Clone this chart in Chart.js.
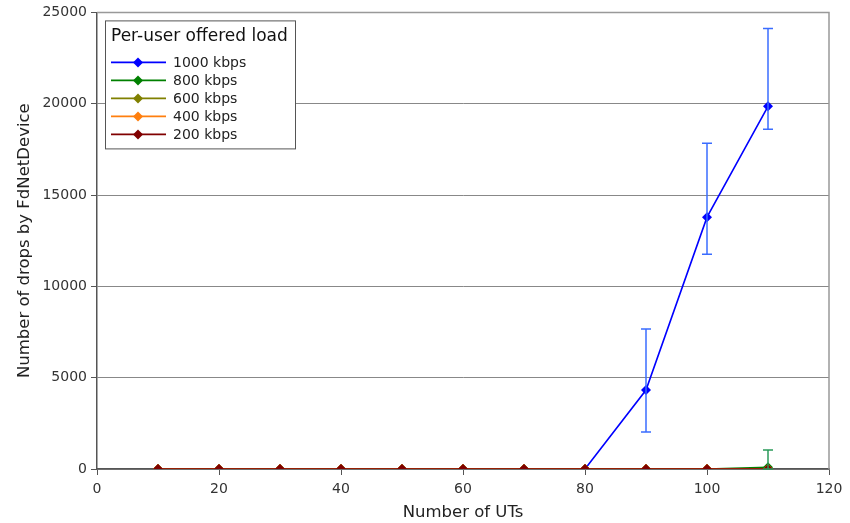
<!DOCTYPE html>
<html>
<head>
<meta charset="utf-8">
<script src="https://cdn.jsdelivr.net/npm/chart.js@4"></script>
<style>
  html, body { margin: 0; padding: 0; background: #fff; }
  #wrap { width: 850px; height: 523px; }
</style>
</head>
<body>
<div id="wrap"><canvas id="dropsChart" width="850" height="523"></canvas></div>
<script>
// Number of UTs
const uts = [10, 20, 30, 40, 50, 60, 70, 80, 90, 100, 110];

// drops per offered load
const drops1000 = [0, 0, 0, 0, 0, 0, 0, 0, 4320, 13790, 19860];
const drops800 = [0, 0, 0, 0, 0, 0, 0, 0, 0, 0, 90];
const drops600 = [0, 0, 0, 0, 0, 0, 0, 0, 0, 0, 0];
const drops400 = [0, 0, 0, 0, 0, 0, 0, 0, 0, 0, 0];
const drops200 = [0, 0, 0, 0, 0, 0, 0, 0, 0, 0, 0];

// error bars [low, high], null = none drawn
const err1000 = [null, null, null, null, null, null, null, null, [2030, 7660], [11760, 17830], [18600, 24120]];
const err800 = [null, null, null, null, null, null, null, null, null, null, [0, 1040]];

const loadLabels = ['1000 kbps', '800 kbps', '600 kbps', '400 kbps', '200 kbps'];
const legendTitle = 'Per-user offered load';

function pts(vals) {
    return vals.map(function(v, i) { return { x: uts[i], y: v }; });
}

function series(label, vals, color, order, errs, errColor) {
    return {
        label: label,
        data: pts(vals),
        borderColor: color,
        backgroundColor: color,
        borderWidth: 1.6,
        pointStyle: 'rectRot',
        pointRadius: 5,
        pointHoverRadius: 5,
        pointBorderWidth: 0,
        tension: 0,
        order: order,
        errors: errs || null,
        errColor: errColor || color
    };
}

// error bars drawn on top of lines
const errorBars = {
    id: 'errorBars',
    afterDatasetsDraw(chart) {
        const ctx = chart.ctx;
        const xs = chart.scales.x, ys = chart.scales.y;
        ctx.save();
        ctx.beginPath();
        ctx.rect(chart.chartArea.left, chart.chartArea.top, chart.chartArea.width, chart.chartArea.height + 1);
        ctx.clip();
        chart.data.datasets.forEach(function(ds) {
            if (!ds.errors) return;
            ctx.strokeStyle = ds.errColor;
            ctx.lineWidth = 1.5;
            ds.errors.forEach(function(e, i) {
                if (!e) return;
                const px = xs.getPixelForValue(uts[i]);
                const lo = ys.getPixelForValue(e[0]);
                const hi = ys.getPixelForValue(e[1]);
                ctx.beginPath();
                ctx.moveTo(px, lo); ctx.lineTo(px, hi);
                ctx.moveTo(px - 5, lo); ctx.lineTo(px + 5, lo);
                ctx.moveTo(px - 5, hi); ctx.lineTo(px + 5, hi);
                ctx.stroke();
            });
        });
        ctx.restore();
    }
};

// frame + boxed legend inside the plot
const frameAndLegend = {
    id: 'frameAndLegend',
    afterDraw(chart) {
        const ctx = chart.ctx;
        const a = chart.chartArea;
        ctx.save();
        ctx.strokeStyle = '#999';
        ctx.lineWidth = 1.5;
        ctx.beginPath();
        ctx.moveTo(a.left, a.top); ctx.lineTo(a.right, a.top); ctx.lineTo(a.right, a.bottom);
        ctx.stroke();

        const bx = a.left + 8, by = a.top + 8, bw = 190, bh = 128;
        ctx.fillStyle = '#fff';
        ctx.fillRect(bx, by, bw, bh);
        ctx.strokeStyle = '#555';
        ctx.lineWidth = 1;
        ctx.strokeRect(bx + 0.5, by + 0.5, bw, bh);

        ctx.fillStyle = '#111';
        ctx.font = '17px "DejaVu Sans"';
        ctx.textBaseline = 'middle';
        ctx.fillText(legendTitle, bx + 6, by + 16);

        ctx.font = '14px "DejaVu Sans"';
        chart.data.datasets.forEach(function(ds, i) {
            const y = by + 42 + i * 18;
            ctx.strokeStyle = ds.borderColor;
            ctx.lineWidth = 1.6;
            ctx.beginPath();
            ctx.moveTo(bx + 6, y); ctx.lineTo(bx + 61, y);
            ctx.stroke();
            ctx.fillStyle = ds.borderColor;
            ctx.beginPath();
            ctx.moveTo(bx + 33, y - 5); ctx.lineTo(bx + 38, y);
            ctx.lineTo(bx + 33, y + 5); ctx.lineTo(bx + 28, y);
            ctx.closePath();
            ctx.fill();
            ctx.fillStyle = '#222';
            ctx.fillText(ds.label, bx + 68, y + 1);
        });
        ctx.restore();
    }
};

const tickFont = { family: 'DejaVu Sans', size: 14 };
const titleFont = { family: 'DejaVu Sans', size: 16.5 };

new Chart(document.getElementById('dropsChart'), {
    type: 'line',
    data: {
        datasets: [
            series(loadLabels[0], drops1000, '#0000ff', 5, err1000, '#3a6cff'),
            series(loadLabels[1], drops800, '#008000', 4, err800, '#2a9a5a'),
            series(loadLabels[2], drops600, '#808000', 3),
            series(loadLabels[3], drops400, '#ff7f0e', 2),
            series(loadLabels[4], drops200, '#800000', 1)
        ]
    },
    options: {
        responsive: false,
        animation: false,
        layout: { padding: { top: 12, right: 21, left: 0, bottom: 0 } },
        plugins: {
            legend: { display: false },
            tooltip: { enabled: false }
        },
        scales: {
            x: {
                type: 'linear',
                min: 0,
                max: 120,
                afterFit(scale) { scale.height = 54; },
                ticks: { stepSize: 20, color: '#333', font: tickFont, padding: 6, callback: function(v) { return String(v); } },
                grid: { drawOnChartArea: false, drawTicks: true, tickLength: 6, tickColor: '#555' },
                border: { color: '#555', width: 1.5 },
                title: { display: true, text: 'Number of UTs', color: '#222', font: titleFont, padding: { top: 0, bottom: 0 } }
            },
            y: {
                min: 0,
                max: 25000,
                afterFit(scale) { scale.width = 97; },
                ticks: { stepSize: 5000, color: '#333', font: tickFont, padding: 4, callback: function(v) { return String(v); } },
                grid: { color: '#888', lineWidth: 1, drawTicks: true, tickLength: 6, tickColor: '#555' },
                border: { color: '#555', width: 1.5 },
                title: { display: true, text: 'Number of drops by FdNetDevice', color: '#222', font: titleFont, padding: { top: 15, bottom: 0 } }
            }
        }
    },
    plugins: [errorBars, frameAndLegend]
});
</script>
</body>
</html>
